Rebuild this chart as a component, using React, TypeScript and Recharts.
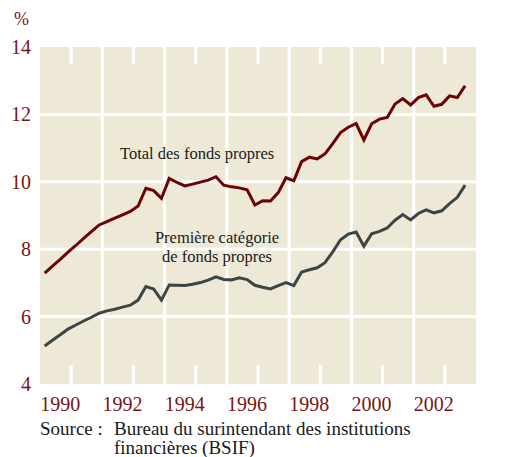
import { LineChart, Line, XAxis, YAxis, CartesianGrid } from "recharts";

// quarterly, 1989 T1 -> 2002 T3
const startYear = 1989;
const total = [
  7.29, 7.5, 7.7, 7.91, 8.11, 8.32, 8.52, 8.72,
  8.82, 8.92, 9.02, 9.12, 9.28, 9.81, 9.74, 9.51,
  10.1, 9.98, 9.88, 9.93, 9.99, 10.05, 10.15, 9.9,
  9.85, 9.82, 9.76, 9.31, 9.44, 9.43, 9.68, 10.12,
  10.03, 10.6, 10.73, 10.68, 10.83, 11.13, 11.46, 11.62,
  11.73, 11.24, 11.72, 11.86, 11.91, 12.31, 12.47, 12.28,
  12.5, 12.58, 12.24, 12.3, 12.55, 12.5, 12.85,
];
const tier1 = [
  5.13, 5.3, 5.46, 5.63, 5.75, 5.87, 5.98, 6.1,
  6.17, 6.22, 6.28, 6.34, 6.49, 6.89, 6.82, 6.49,
  6.94, 6.93, 6.92, 6.96, 7.01, 7.08, 7.18, 7.1,
  7.09, 7.15, 7.1, 6.93, 6.87, 6.82, 6.92, 7.01,
  6.92, 7.32, 7.39, 7.45, 7.6, 7.92, 8.28, 8.45,
  8.51, 8.09, 8.46, 8.53, 8.63, 8.86, 9.03, 8.87,
  9.06, 9.17, 9.08, 9.14, 9.35, 9.54, 9.9,
];
const yearTicks = [1990, 1992, 1994, 1996, 1998, 2000, 2002];
const gridYears = [1991, 1993, 1995, 1997, 1999, 2001];
const yTicks = [4, 6, 8, 10, 12, 14];
const gridY = [6, 8, 10, 12];

const data = total.map((v, i) => ({
  t: startYear + i / 4 + 0.15,
  total: v,
  tier1: tier1[i],
}));

const RED = "#7a1517";
const FONT = "Liberation Serif, Tinos, Times New Roman, DejaVu Serif, serif";

export default function App() {
  return (
    <div style={{ position: "absolute", left: 0, top: 0, width: 510, height: 457, background: "#fff", fontFamily: FONT }}>
      <LineChart width={510} height={457} data={data} margin={{ top: 47, right: 0, bottom: 0, left: 0 }}>
        <CartesianGrid
          yAxisId="left"
          fill="#eee9d7"
          fillOpacity={1}
          stroke="#ffffff"
          strokeWidth={3}
          horizontalValues={gridY}
          verticalValues={gridYears}
        />
        <XAxis
          dataKey="t"
          type="number"
          domain={[1989, 2003]}
          ticks={yearTicks}
          height={73}
          axisLine={false}
          tickLine={false}
          interval={0}
          tick={({ x, payload }: any) => (
            <g>
              <rect x={x - 1.5} y={47} width={3} height={17} fill="#ffffff" />
              <rect x={x - 1.5} y={365} width={3} height={19} fill="#ffffff" />
              <text x={x - 11} y={404} textAnchor="middle" dominantBaseline="central" fill={RED} fontSize={20} fontFamily={FONT}>
                {payload.value}
              </text>
            </g>
          )}
        />
        <YAxis
          yAxisId="left"
          domain={[4, 14]}
          ticks={yTicks}
          width={40}
          axisLine={false}
          tickLine={false}
          interval={0}
          tick={({ y, payload }: any) => (
            <text x={31} y={y} textAnchor="end" dominantBaseline="central" fill={RED} fontSize={20} fontFamily={FONT}>
              {payload.value}
            </text>
          )}
        />
        <YAxis
          yAxisId="right"
          orientation="right"
          domain={[4, 14]}
          ticks={yTicks}
          width={34}
          axisLine={false}
          tickLine={false}
          interval={0}
          tick={({ y, payload }: any) => (
            <text x={486} y={y} textAnchor="start" dominantBaseline="central" fill={RED} fontSize={20} fontFamily={FONT}>
              {payload.value}
            </text>
          )}
        />
        <Line yAxisId="left" dataKey="total" stroke="#6b0304" strokeWidth={3} dot={false} isAnimationActive={false} />
        <Line yAxisId="left" dataKey="tier1" stroke="#3b4644" strokeWidth={3} dot={false} isAnimationActive={false} />
      </LineChart>
      <div style={{ position: "absolute", left: 14, top: 9, fontSize: 18, color: RED }}>%</div>
      <div style={{ position: "absolute", left: 120, top: 144, fontSize: 16.5, color: "#1a1a1a", whiteSpace: "nowrap" }}>
        Total des fonds propres
      </div>
      <div style={{ position: "absolute", left: 142, top: 228, width: 150, textAlign: "center", fontSize: 16.5, lineHeight: "19px", color: "#1a1a1a" }}>
        Première catégorie
        <br />
        de fonds propres
      </div>
      <div style={{ position: "absolute", left: 40, top: 419, fontSize: 19, lineHeight: "19px", color: "#1a1a1a", display: "flex" }}>
        <div style={{ width: 74 }}>Source :</div>
        <div>
          Bureau du surintendant des institutions
          <br />
          financières (BSIF)
        </div>
      </div>
    </div>
  );
}
